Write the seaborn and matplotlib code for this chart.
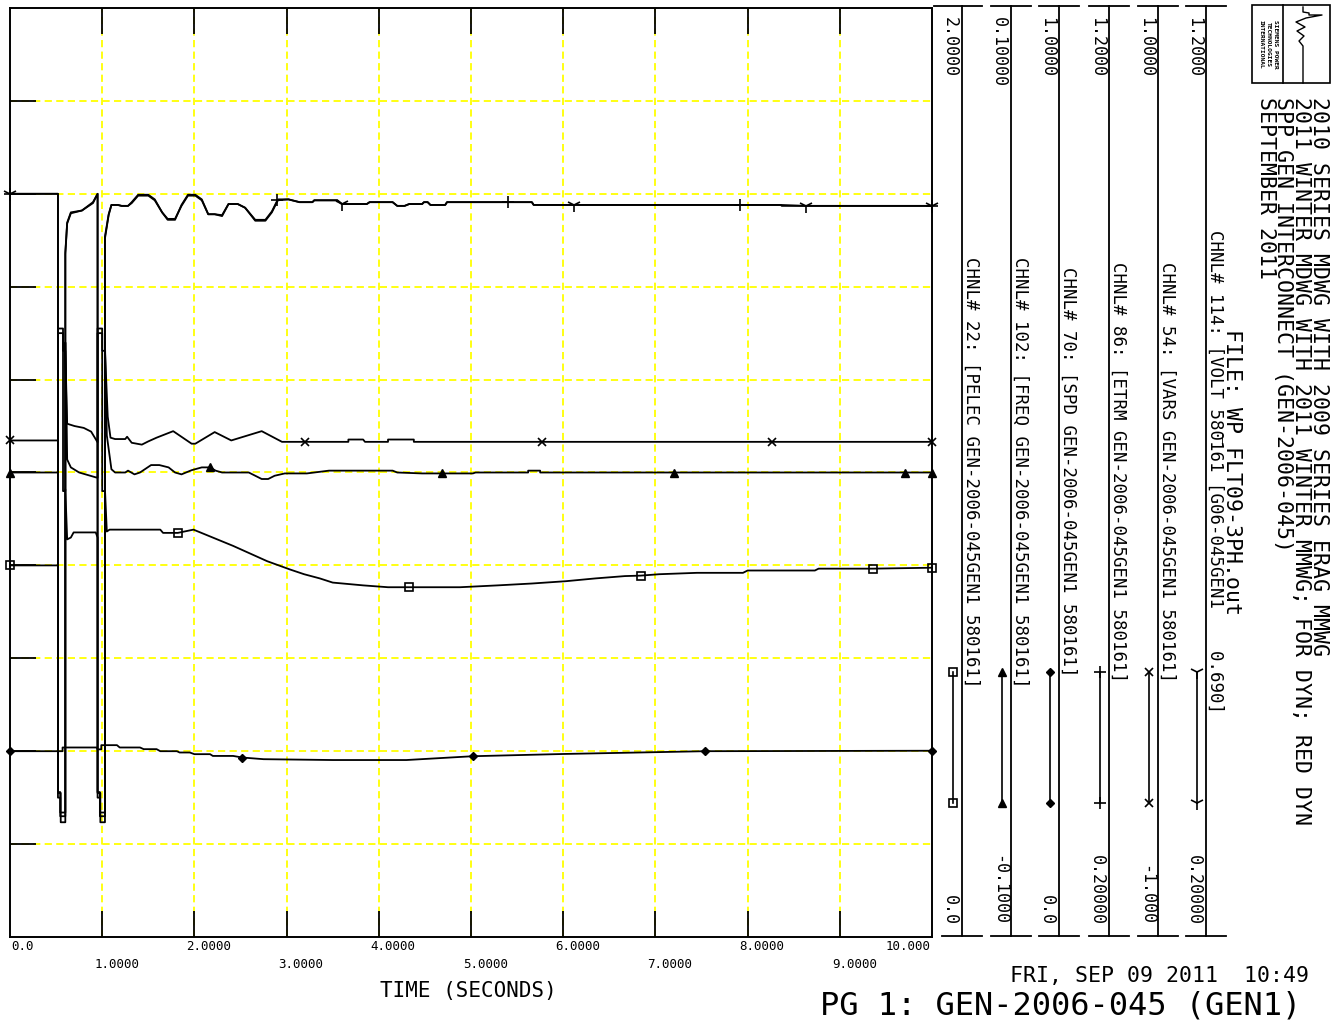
import numpy as np
import pandas as pd
import seaborn as sns
import matplotlib.pyplot as plt
from matplotlib.lines import Line2D
from matplotlib.patches import Rectangle

W, H = 1341, 1021

# channel order = legend panels, left to right
chan_names = ["PELEC", "FREQ", "SPD", "ETRM", "VARS", "VOLT"]
chan_lo = [0.0, -0.1, 0.0, 0.2, -1.0, 0.2]
chan_hi = [2.0, 0.1, 1.0, 1.2, 1.0, 1.2]
top_labels = ["2.0000", "0.10000", "1.0000", "1.2000", "1.0000", "1.2000"]
bottom_labels = ["0.0", "-0.1000", "0.0", "0.20000", "-1.000", "0.20000"]
chan_titles = [
    "CHNL# 22: [PELEC GEN-2006-045GEN1 580161]",
    "CHNL# 102: [FREQ GEN-2006-045GEN1 580161]",
    "CHNL# 70: [SPD GEN-2006-045GEN1 580161]",
    "CHNL# 86: [ETRM GEN-2006-045GEN1 580161]",
    "CHNL# 54: [VARS GEN-2006-045GEN1 580161]",
    "CHNL# 114: [VOLT 580161 [G06-045GEN1    0.690]",
]
x_tick_labels = ["0.0", "1.0000", "2.0000", "3.0000", "4.0000", "5.0000",
                 "6.0000", "7.0000", "8.0000", "9.0000", "10.000"]
header = ["2010 SERIES MDWG WITH 2009 SERIES ERAG MMWG",
          "2011 WINTER MDWG WITH 2011 WINTER MMWG; FOR DYN; RED DYN",
          "SPP GEN INTERCONNECT (GEN-2006-045)",
          "SEPTEMBER 2011"]

# (time s, value)
pelec_pts = [(0.0, 0.800), (0.52, 0.800), (0.52, 0.310), (0.55, 0.310), (0.55, 0.247), (0.60, 0.247),
             (0.60, 0.964), (0.62, 0.856), (0.66, 0.860), (0.69, 0.871), (0.93, 0.871), (0.95, 0.860),
             (0.95, 0.310), (0.98, 0.310), (0.98, 0.247), (1.03, 0.247), (1.03, 0.964), (1.05, 0.873),
             (1.08, 0.877), (1.63, 0.877), (1.66, 0.870), (1.82, 0.870), (1.99, 0.877), (2.42, 0.842),
             (2.79, 0.809), (3.04, 0.791), (3.19, 0.781), (3.36, 0.772), (3.50, 0.763), (3.83, 0.757),
             (4.10, 0.753), (4.33, 0.753), (4.88, 0.753), (5.29, 0.757), (5.66, 0.761), (6.03, 0.766),
             (6.35, 0.772), (6.67, 0.777), (6.84, 0.778), (7.04, 0.781), (7.45, 0.784), (7.95, 0.784),
             (8.00, 0.789), (8.73, 0.789), (8.77, 0.793), (9.36, 0.793), (10.0, 0.795)]
freq_pts = [(0.0, 0.0), (0.52, 0.0), (0.52, 0.031), (0.575, 0.031), (0.575, -0.004), (0.60, -0.004),
            (0.60, 0.028), (0.615, 0.010), (0.62, 0.0028), (0.66, 0.0011), (0.75, 0.0), (0.94, -0.0011),
            (0.95, -0.0011), (0.95, 0.031), (1.00, 0.031), (1.00, -0.004), (1.03, -0.004), (1.03, 0.028),
            (1.05, 0.008), (1.10, 0.0007), (1.14, 0.0), (1.25, 0.0), (1.28, 0.0004), (1.35, -0.0004),
            (1.41, 0.0), (1.53, 0.0016), (1.62, 0.0016), (1.72, 0.0011), (1.79, 0.0), (1.86, -0.0004),
            (1.97, 0.0005), (2.08, 0.0011), (2.17, 0.0011), (2.23, 0.0004), (2.30, 0.0), (2.59, 0.0),
            (2.73, -0.0014), (2.80, -0.0014), (2.87, -0.0007), (2.98, -0.0002), (3.22, -0.0002),
            (3.46, 0.0004), (4.15, 0.0004), (4.20, 0.0), (4.47, -0.0002), (4.69, -0.0002), (5.02, -0.0002),
            (5.05, 0.0), (5.62, 0.0), (5.62, 0.0004), (5.75, 0.0004), (5.75, 0.0), (7.20, 0.0),
            (9.71, 0.0), (10.0, 0.0)]
spd_pts = [(0.0, 0.2000), (0.57, 0.2000), (0.57, 0.2040), (0.94, 0.2040), (0.95, 0.2020), (0.99, 0.2020),
           (0.99, 0.2065), (1.16, 0.2065), (1.19, 0.2040), (1.41, 0.2040), (1.45, 0.2022), (1.59, 0.2022),
           (1.63, 0.2000), (1.81, 0.2000), (1.84, 0.1986), (1.95, 0.1986), (2.00, 0.1968), (2.17, 0.1968),
           (2.20, 0.1949), (2.42, 0.1949), (2.52, 0.1932), (2.75, 0.1914), (3.50, 0.1905), (4.30, 0.1905),
           (5.02, 0.1946), (6.00, 0.1970), (7.54, 0.2000), (10.0, 0.2005)]
etrm_pts = [(0.0, 1.000), (0.52, 1.000), (0.52, 0.350), (0.545, 0.350), (0.545, 0.334), (0.60, 0.334),
            (0.60, 0.935), (0.62, 0.968), (0.66, 0.979), (0.78, 0.982), (0.90, 0.990), (0.95, 1.000),
            (0.95, 0.350), (0.975, 0.350), (0.975, 0.334), (1.03, 0.334), (1.03, 0.952), (1.07, 0.977),
            (1.10, 0.988), (1.17, 0.988), (1.21, 0.987), (1.28, 0.987), (1.32, 0.990), (1.39, 0.998),
            (1.50, 0.998), (1.57, 0.993), (1.65, 0.980), (1.71, 0.973), (1.79, 0.973), (1.86, 0.987),
            (1.93, 0.998), (2.01, 0.998), (2.08, 0.993), (2.15, 0.978), (2.22, 0.978), (2.30, 0.977),
            (2.37, 0.989), (2.47, 0.989), (2.55, 0.985), (2.66, 0.972), (2.77, 0.972), (2.84, 0.981),
            (2.90, 0.993), (3.02, 0.994), (3.14, 0.991), (3.28, 0.991), (3.30, 0.993), (3.55, 0.993),
            (3.60, 0.989), (3.87, 0.989), (3.90, 0.991), (4.15, 0.991), (4.20, 0.987), (4.28, 0.987),
            (4.33, 0.989), (4.47, 0.989), (4.49, 0.991), (4.53, 0.991), (4.56, 0.988), (4.72, 0.988),
            (4.74, 0.991), (5.40, 0.991), (5.66, 0.991), (5.68, 0.988), (7.92, 0.988), (8.36, 0.988),
            (8.37, 0.987), (10.0, 0.987)]
vars_pts = [(0.0, 0.069), (0.52, 0.069), (0.52, 0.300), (0.575, 0.300), (0.575, 0.262), (0.60, 0.262),
            (0.62, 0.105), (0.70, 0.100), (0.80, 0.096), (0.88, 0.088), (0.95, 0.065), (0.95, 0.300),
            (1.00, 0.300), (1.00, 0.262), (1.03, 0.262), (1.06, 0.120), (1.09, 0.075), (1.14, 0.072),
            (1.25, 0.072), (1.27, 0.077), (1.32, 0.064), (1.43, 0.060), (1.50, 0.067), (1.59, 0.075),
            (1.77, 0.089), (1.97, 0.062), (2.01, 0.062), (2.22, 0.087), (2.40, 0.069), (2.73, 0.089),
            (2.95, 0.066), (3.20, 0.066), (3.67, 0.066), (3.67, 0.071), (3.83, 0.071), (3.85, 0.066),
            (4.10, 0.066), (4.10, 0.071), (4.38, 0.071), (4.38, 0.066), (5.77, 0.066), (8.27, 0.066),
            (10.0, 0.066)]
volt_pts = [(0.0, 1.000), (0.52, 1.000), (0.52, 0.356), (0.545, 0.356), (0.545, 0.330), (0.60, 0.330),
            (0.60, 0.937), (0.62, 0.969), (0.66, 0.980), (0.78, 0.982), (0.90, 0.991), (0.95, 1.000),
            (0.95, 0.356), (0.975, 0.356), (0.975, 0.330), (1.03, 0.330), (1.03, 0.954), (1.07, 0.978),
            (1.10, 0.988), (1.17, 0.988), (1.21, 0.987), (1.28, 0.987), (1.32, 0.991), (1.39, 0.999),
            (1.50, 0.999), (1.57, 0.994), (1.65, 0.980), (1.71, 0.972), (1.79, 0.972), (1.86, 0.988),
            (1.93, 0.999), (2.01, 0.999), (2.08, 0.994), (2.15, 0.978), (2.22, 0.978), (2.30, 0.976),
            (2.37, 0.989), (2.47, 0.989), (2.55, 0.985), (2.66, 0.971), (2.77, 0.971), (2.84, 0.980),
            (2.91, 0.994), (3.02, 0.994), (3.14, 0.991), (3.28, 0.991), (3.30, 0.993), (3.55, 0.993),
            (3.60, 0.989), (3.87, 0.989), (3.90, 0.991), (4.15, 0.991), (4.20, 0.987), (4.28, 0.987),
            (4.33, 0.989), (4.47, 0.989), (4.49, 0.991), (4.53, 0.991), (4.56, 0.988), (4.72, 0.988),
            (4.74, 0.991), (5.66, 0.991), (5.68, 0.988), (6.12, 0.988), (8.36, 0.988), (8.63, 0.987),
            (10.0, 0.987)]

# times where the plot symbols sit
pelec_marks = [0.0, 1.82, 4.33, 6.84, 9.36, 10.0]
freq_marks = [0.0, 2.17, 4.69, 7.20, 9.71, 10.0]
spd_marks = [0.0, 2.52, 5.02, 7.54, 10.0]
etrm_marks = [0.0, 2.90, 5.40, 7.92, 10.0]
vars_marks = [0.0, 3.20, 5.77, 8.27, 10.0]
volt_marks = [0.0, 3.60, 6.12, 8.63, 10.0]

series = {"PELEC": pelec_pts, "FREQ": freq_pts, "SPD": spd_pts,
          "ETRM": etrm_pts, "VARS": vars_pts, "VOLT": volt_pts}
marks = {"PELEC": pelec_marks, "FREQ": freq_marks, "SPD": spd_marks,
         "ETRM": etrm_marks, "VARS": vars_marks, "VOLT": volt_marks}
mstyle = {
    "PELEC": dict(marker="s", ms=6, mfc="none", mew=1.2),
    "FREQ": dict(marker="^", ms=6, mfc="black", mew=1.0),
    "SPD": dict(marker="D", ms=4, mfc="black", mew=1.0),
    "ETRM": dict(marker="+", ms=9, mfc="none", mew=1.2),
    "VARS": dict(marker="x", ms=6, mfc="none", mew=1.2),
    "VOLT": dict(marker="1", ms=10, mfc="none", mew=1.2),
}

plt.rcParams["font.family"] = ["DejaVu Sans Mono"]

fig = plt.figure(figsize=(W / 100, H / 100), dpi=100)
fig.patch.set_facecolor("white")


def fx(x):
    return x / W


def fy(y):
    return 1 - y / H


def fig_line(xs, ys, lw=1.3, **kw):
    fig.add_artist(Line2D([fx(x) for x in xs], [fy(y) for y in ys], color="black", lw=lw, **kw))


# main plotting frame: 10 divisions each way
ax = fig.add_axes([fx(10), fy(937), (932 - 10) / W, (937 - 8) / H])
ax.set_xlim(0, 10)
ax.set_ylim(0, 10)
ax.set_xticks(range(1, 10))
ax.set_yticks(range(1, 10))
ax.tick_params(direction="in", length=19, width=1.3, color="black", top=True, right=True,
               labelbottom=False, labelleft=False)
ax.grid(True, color="#ffff00", lw=1.3, ls=(0, (4, 2.4)))
for s in ax.spines.values():
    s.set_linewidth(1.4)
    s.set_color("black")

for i, name in enumerate(chan_names):
    axc = ax.twinx()
    df = pd.DataFrame(series[name], columns=["t", "v"])
    idx = [int(np.flatnonzero(np.isclose(df["t"].values, m))[0]) for m in marks[name]]
    sns.lineplot(data=df, x="t", y="v", ax=axc, estimator=None, sort=False, color="black",
                 lw=1.3, markevery=idx, mec="black", clip_on=False, **mstyle[name])
    axc.set_xlim(0, 10)
    axc.set_ylim(chan_lo[i], chan_hi[i])
    axc.axis("off")

# time axis labels, two staggered rows
for k, lab in enumerate(x_tick_labels):
    px_x = ax.transData.transform((k, 0))[0]
    row_y = 946 if k % 2 == 0 else 964
    if k == 0:
        ha, dx = "left", 1
    elif k == 10:
        ha, dx = "right", -1
    else:
        ha, dx = "left", -8
    fig.text(fx(px_x + dx), fy(row_y), lab, ha=ha, va="center", fontsize=9)

fig.text(fx(468), fy(991), "TIME (SECONDS)", ha="center", va="center", fontsize=15)

# channel legend panels
panel_x = [962, 1011, 1059, 1109, 1158, 1206]
for i, name in enumerate(chan_names):
    vx = panel_x[i]
    fig_line([vx, vx], [6, 936])
    fig_line([vx - (28 if i == 0 else 20), vx + 20], [6, 6])
    fig_line([vx - 20, vx + 20], [936, 936])
    fig.text(fx(vx - 12), fy(17), top_labels[i], rotation=270, ha="center", va="top", fontsize=12)
    fig.text(fx(vx - 12), fy(925), bottom_labels[i], rotation=270, ha="center", va="bottom", fontsize=12)
    fig.text(fx(vx + 9), fy(472), chan_titles[i], rotation=270, ha="center", va="center", fontsize=12.5)
    st = mstyle[name]
    fig_line([vx - 9, vx - 9], [672, 803], lw=1.2, marker=st["marker"], ms=st["ms"],
             mfc=st["mfc"], mec="black", mew=st["mew"])

fig.text(fx(1232), fy(472), "FILE: WP_FLT09-3PH.out", rotation=270, ha="center", va="center", fontsize=15.5)

# run header, one rotated block, lines start at the same height
fig.text(fx(1329), fy(97), "\n".join(header), rotation=270, ha="right", va="top",
         multialignment="left", fontsize=15.5, linespacing=0.86)

# logo block
fig.add_artist(Rectangle((fx(1252), fy(83)), (1330 - 1252) / W, (83 - 5) / H,
                         fill=False, ec="black", lw=1.2, transform=fig.transFigure))
fig_line([1283, 1283], [5, 83], lw=1.2)
fig_line([1303, 1303, 1309, 1309, 1322, 1306, 1296, 1305, 1297, 1304, 1299, 1303, 1303],
         [7, 12, 13, 15, 15, 18, 22, 27, 31, 36, 41, 46, 83], lw=1.0)
fig.text(fx(1268), fy(44), "SIEMENS POWER\nTECHNOLOGIES\nINTERNATIONAL", rotation=270,
         ha="center", va="center", fontsize=4.5, fontweight="bold", linespacing=1.5)

fig.text(fx(1010), fy(976), "FRI, SEP 09 2011  10:49", ha="left", va="center", fontsize=15.5)
fig.text(fx(820), fy(1006), "PG 1: GEN-2006-045 (GEN1)", ha="left", va="center", fontsize=23)

fig.savefig("out.png", dpi=100, facecolor="white")
